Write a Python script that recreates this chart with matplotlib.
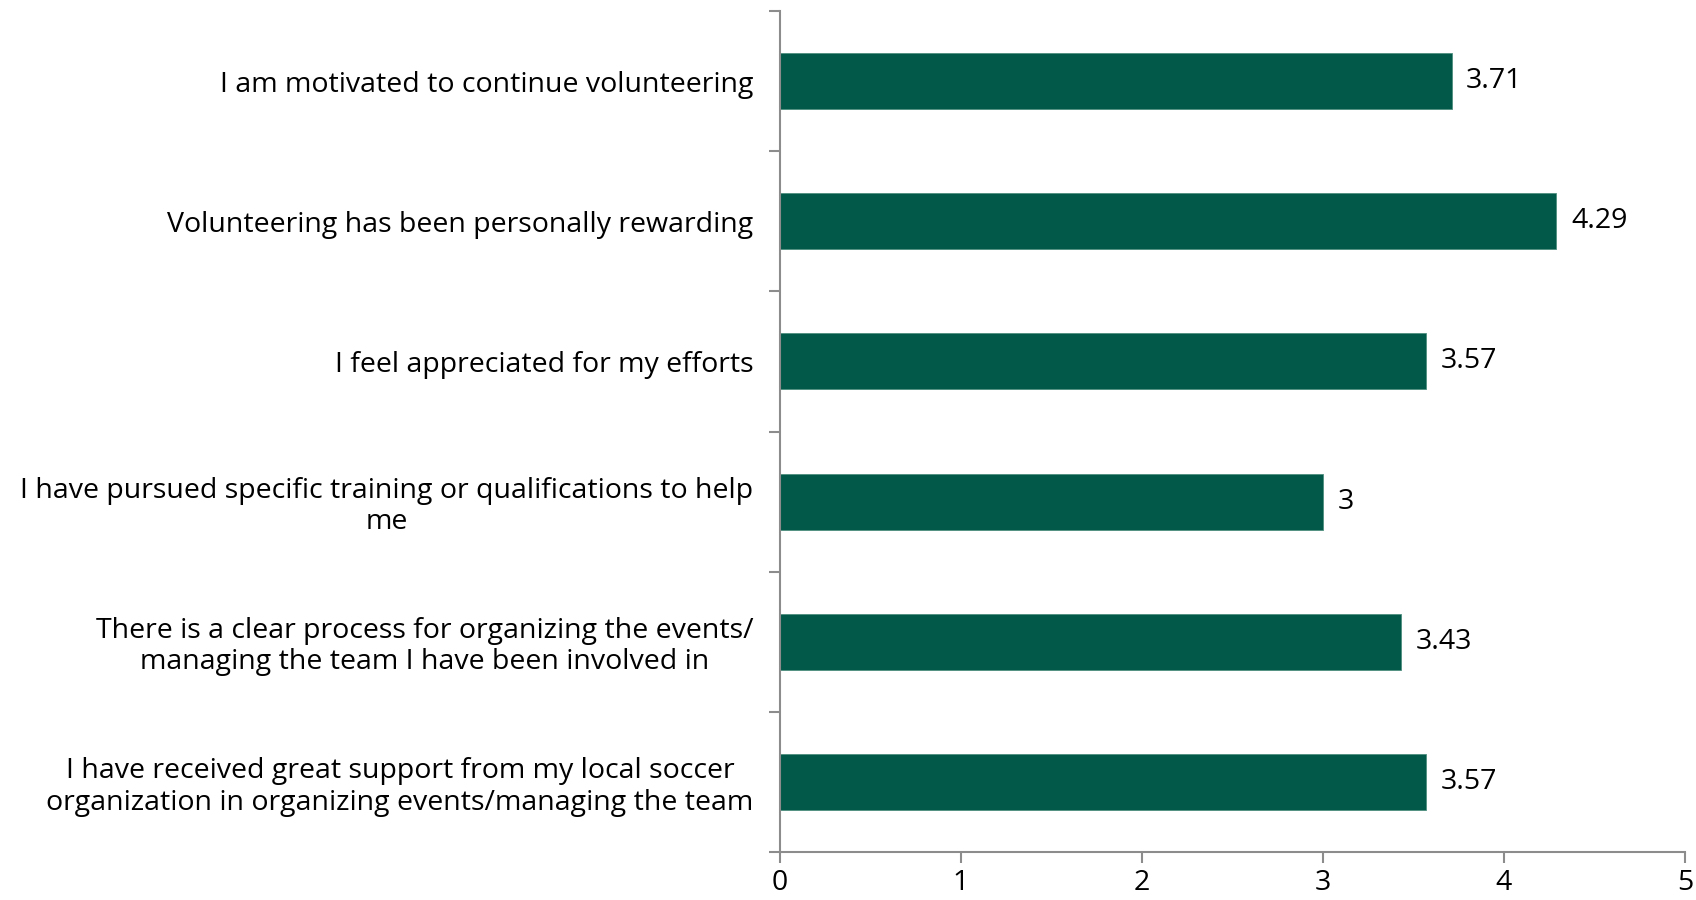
import matplotlib
matplotlib.use("Agg")
import matplotlib.pyplot as plt

categories = [
    "I am motivated to continue volunteering",
    "Volunteering has been personally rewarding",
    "I feel appreciated for my efforts",
    "I have pursued specific training or qualifications to help\nme",
    "There is a clear process for organizing the events/\nmanaging the team I have been involved in",
    "I have received great support from my local soccer\norganization in organizing events/managing the team",
]
values = [3.71, 4.29, 3.57, 3.0, 3.43, 3.57]
value_labels = ["3.71", "4.29", "3.57", "3", "3.43", "3.57"]
xticks = [0, 1, 2, 3, 4, 5]

plt.rcParams['font.family'] = ['Open Sans', 'DejaVu Sans']
fig = plt.figure(figsize=(16.96, 9.0), dpi=100)
ax = fig.add_axes([780/1696, 1-852/900, (1685-780)/1696, (852-11)/900])

n = len(categories)
ypos = list(range(n))[::-1]
color = "#02594A"
ax.barh(ypos, values, height=0.4, color=color, edgecolor="#4f8f80", linewidth=0.6)
for y, v, lab in zip(ypos, values, value_labels):
    ax.text(v + 0.08, y, lab, va="center", ha="left", fontsize=20.5, color="black")

ax.set_xlim(0, 5)
ax.set_ylim(-0.5, n - 0.5)
ax.set_xticks(xticks)
ax.set_xticklabels([str(t) for t in xticks], fontsize=20.5)
ax.set_yticks(ypos)
ax.set_yticklabels(categories, fontsize=20.5, ha="right", multialignment="center",
                   linespacing=1.15)
ax.set_yticks([y - 0.5 for y in range(n + 1)], minor=True)
ax.tick_params(axis="y", which="major", length=0, pad=19)
ax.tick_params(axis="y", which="minor", length=8, width=1.5, color="#8c8c8c")
ax.tick_params(axis="x", which="major", length=8, width=1.5, color="#8c8c8c", pad=4)

for s in ["top", "right"]:
    ax.spines[s].set_visible(False)
for s in ["left", "bottom"]:
    ax.spines[s].set_color("#8c8c8c")
    ax.spines[s].set_linewidth(1.5)

fig.savefig("out.png", dpi=100, facecolor="white")
